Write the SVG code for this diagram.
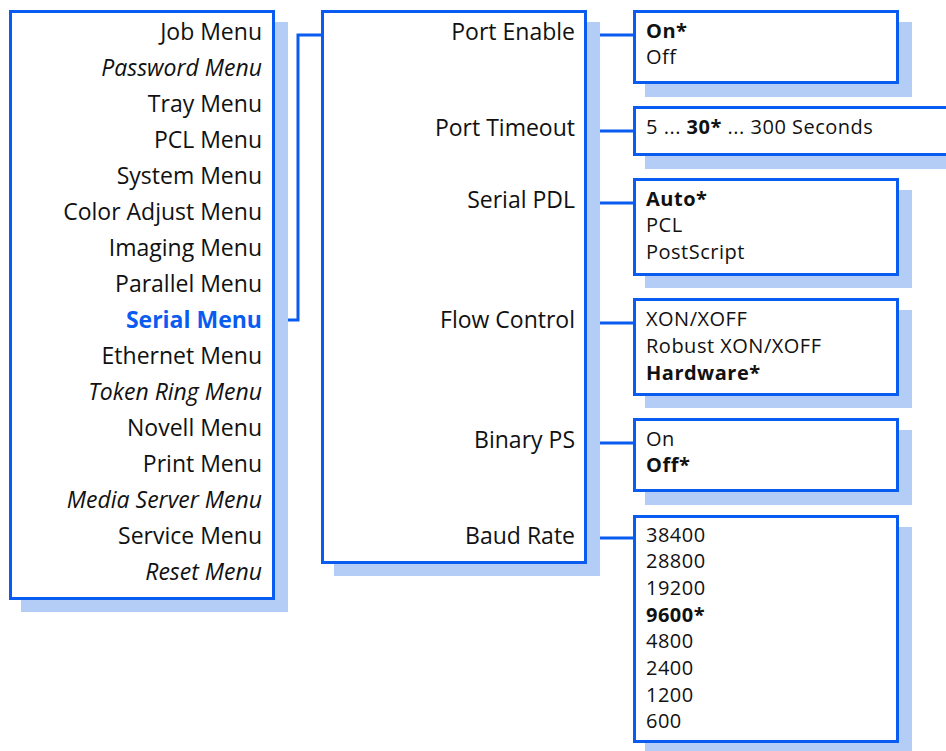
<svg xmlns="http://www.w3.org/2000/svg" width="946" height="751" viewBox="0 0 946 751">
<style>
.box{fill:#fff;stroke:#0a5cf0;stroke-width:3}
.sh{fill:#b3cdf7}
.conn{fill:none;stroke:#0a5cf0;stroke-width:3}
text{font-family:"Open Sans","Noto Sans",sans-serif;fill:#111}
.m{font-size:23px;text-anchor:end}
.i{font-style:italic}
.o{font-size:20px;letter-spacing:0.5px}
.b{font-weight:bold}
.sel{fill:#0a5cf0;font-weight:bold}
</style>
<rect width="946" height="751" fill="#fff"/>
<g id="connectors">
<polyline class="conn" points="275,320 298,320 298,35 321,35"/>
<line class="conn" x1="587" y1="35" x2="633" y2="35"/>
<line class="conn" x1="587" y1="131" x2="633" y2="131"/>
<line class="conn" x1="587" y1="203" x2="633" y2="203"/>
<line class="conn" x1="587" y1="323" x2="633" y2="323"/>
<line class="conn" x1="587" y1="443" x2="633" y2="443"/>
<line class="conn" x1="587" y1="538" x2="633" y2="538"/>
</g>
<g id="main-menu">
<rect class="sh" x="21" y="22" width="267" height="590"/>
<rect class="box" x="10.5" y="11.5" width="263" height="587"/>
<text class="m" x="262" y="40">Job Menu</text>
<text class="m i" x="262" y="76">Password Menu</text>
<text class="m" x="262" y="112">Tray Menu</text>
<text class="m" x="262" y="148">PCL Menu</text>
<text class="m" x="262" y="184">System Menu</text>
<text class="m" x="262" y="220">Color Adjust Menu</text>
<text class="m" x="262" y="256">Imaging Menu</text>
<text class="m" x="262" y="292">Parallel Menu</text>
<text class="m sel" x="262" y="328">Serial Menu</text>
<text class="m" x="262" y="364">Ethernet Menu</text>
<text class="m i" x="262" y="400">Token Ring Menu</text>
<text class="m" x="262" y="436">Novell Menu</text>
<text class="m" x="262" y="472">Print Menu</text>
<text class="m i" x="262" y="508">Media Server Menu</text>
<text class="m" x="262" y="544">Service Menu</text>
<text class="m i" x="262" y="580">Reset Menu</text>
</g>
<g id="serial-menu">
<rect class="sh" x="334" y="22" width="266" height="554"/>
<rect class="box" x="322.5" y="11.5" width="263" height="551"/>
<text class="m" x="575" y="40">Port Enable</text>
<text class="m" x="575" y="136">Port Timeout</text>
<text class="m" x="575" y="208">Serial PDL</text>
<text class="m" x="575" y="328">Flow Control</text>
<text class="m" x="575" y="448">Binary PS</text>
<text class="m" x="575" y="544">Baud Rate</text>
</g>
<g id="port-enable">
<rect class="sh" x="645" y="22" width="267" height="75"/>
<rect class="box" x="634.5" y="11.5" width="263" height="71"/>
<text class="o b" x="646" y="38">On*</text>
<text class="o" x="646" y="64">Off</text>
</g>
<g id="port-timeout">
<rect class="sh" x="645" y="119" width="301" height="50"/>
<rect class="box" x="634.5" y="107.5" width="320" height="47"/>
<text class="o" x="646" y="134">5 ... <tspan class="b">30*</tspan> ... 300 Seconds</text>
</g>
<g id="serial-pdl">
<rect class="sh" x="645" y="190" width="267" height="98"/>
<rect class="box" x="634.5" y="179.5" width="263" height="95"/>
<text class="o b" x="646" y="206">Auto*</text>
<text class="o" x="646" y="232">PCL</text>
<text class="o" x="646" y="259">PostScript</text>
</g>
<g id="flow-control">
<rect class="sh" x="645" y="310" width="267" height="98"/>
<rect class="box" x="634.5" y="299.5" width="263" height="95"/>
<text class="o" x="646" y="326">XON/XOFF</text>
<text class="o" x="646" y="353">Robust XON/XOFF</text>
<text class="o b" x="646" y="380">Hardware*</text>
</g>
<g id="binary-ps">
<rect class="sh" x="645" y="430" width="267" height="75"/>
<rect class="box" x="634.5" y="419.5" width="263" height="71"/>
<text class="o" x="646" y="446">On</text>
<text class="o b" x="646" y="472">Off*</text>
</g>
<g id="baud-rate">
<rect class="sh" x="645" y="527" width="267" height="224"/>
<rect class="box" x="634.5" y="516.5" width="263" height="225"/>
<text class="o" x="646" y="542">38400</text>
<text class="o" x="646" y="568">28800</text>
<text class="o" x="646" y="595">19200</text>
<text class="o b" x="646" y="622">9600*</text>
<text class="o" x="646" y="648">4800</text>
<text class="o" x="646" y="675">2400</text>
<text class="o" x="646" y="702">1200</text>
<text class="o" x="646" y="728">600</text>
</g>
</svg>
